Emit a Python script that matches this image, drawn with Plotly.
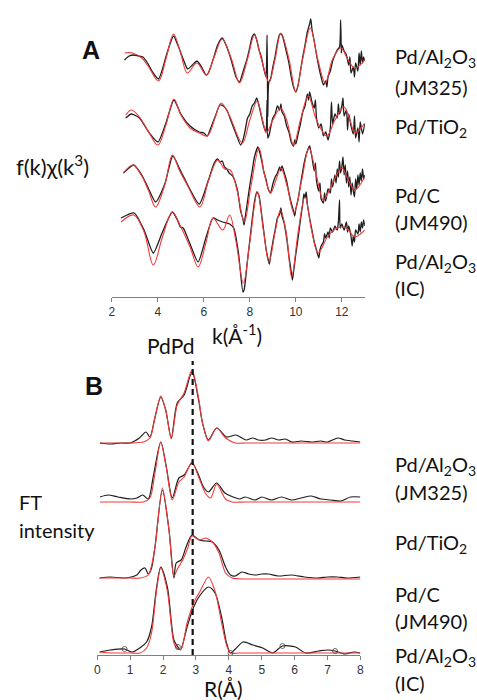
import plotly.graph_objects as go

# ---------------- Panel A : k^3-weighted EXAFS, data (black) and fit (red) ----------------
k_fit_jm325 = [2.55, 2.9, 3.3, 3.6, 4.03, 4.35, 4.68, 5.0, 5.28, 5.7, 6.1, 6.45, 6.8, 7.2, 7.55, 7.9, 8.2, 8.5,
               8.83, 9.1, 9.35, 9.7, 10.0, 10.3, 10.63, 10.95, 11.28, 11.6, 11.96, 12.25, 12.56, 13.0]
chi_fit_jm325 = [6, 6, 1, -8, -22, 0, 25, 5, -14, -4, -16, 2, 20, 0, -24, 0, 24, 0,
                 -23, 0, 26, 0, -33, 0, 31, 0, -24, 0, 11, 0, -9, -1]
k_dat_jm325 = [2.55, 2.75, 2.95, 3.15, 3.35, 3.55, 3.8, 4.03, 4.2, 4.4, 4.68, 4.9, 5.1, 5.3, 5.5, 5.7, 5.9, 6.1,
               6.2, 6.45, 6.6, 6.8, 7.0, 7.2, 7.4, 7.55, 7.7, 7.9,
               8.0, 8.1, 8.2, 8.3, 8.4, 8.5, 8.6, 8.7, 8.75, 8.78, 8.82, 8.9, 9.0, 9.1, 9.2, 9.3, 9.4, 9.5, 9.6, 9.7,
               9.8, 9.9, 10.0, 10.1, 10.2, 10.3, 10.4, 10.5, 10.6, 10.65, 10.7, 10.8, 10.9, 11.0, 11.1, 11.2, 11.3,
               11.35, 11.4, 11.5, 11.6, 11.7, 11.8, 11.9, 11.95, 11.98, 12.0, 12.1, 12.2, 12.3, 12.35, 12.4, 12.5,
               12.55, 12.6, 12.7, 12.75, 12.8, 12.85, 12.9, 12.95, 13.0]
chi_dat_jm325 = [-1, 3, 4, 3, 2, -4, -14, -20, -10, 6, 23, 12, 0, -10, -6, -2, -8, -16,
                 -14, 3, 14, 21, 12, -2, -18, -23, -13, 2,
                 12, 22, 25, 19, 9, 2, -9, -18, 24, -58, -24, -20, -8, 3, 16, 25, 24, 16, 6, -4,
                 -18, -28, -33, -26, -12, 2, 14, 27, 35, 40, 30, 18, 4, -8, -18, -26, -22,
                 -28, -18, -12, -2, 4, 9, 12, 39, 6, 14, 8, 4, -6, 2, -14, -8,
                 -18, -4, -12, 6, -6, 8, -4, 2, -2]

k_fit_tio2 = [2.6, 2.85, 3.2, 3.6, 4.0, 4.35, 4.7, 5.0, 5.4, 5.8, 6.15, 6.5, 6.75, 7.1, 7.67, 8.0, 8.32, 8.55,
              8.72, 9.0, 9.34, 9.6, 9.9, 10.2, 10.54, 10.9, 11.35, 11.7, 12.1, 12.35, 12.58, 13.0]
chi_fit_tio2 = [5, 10, 3, -12, -25, -5, 21, 5, -8, -13, -16, 3, 17, 5, -23, 0, 19, 0,
                -13, 0, 12, 0, -25, 0, 24, 0, -16, 0, 13, 0, -13, -3]
k_dat_tio2 = [2.6, 2.85, 3.2, 3.6, 4.0, 4.35, 4.7, 5.0, 5.4, 5.8, 6.0, 6.15, 6.3, 6.5, 6.7, 6.85, 7.0, 7.2, 7.4,
              7.6, 7.7, 7.8, 7.9, 8.0, 8.1, 8.2, 8.3, 8.4, 8.5, 8.6, 8.7, 8.75, 8.78, 8.85, 8.9, 9.0, 9.1, 9.2,
              9.3, 9.35, 9.4, 9.5, 9.6, 9.7, 9.8, 9.9, 9.95, 10.0, 10.1, 10.2, 10.3, 10.4, 10.5, 10.55, 10.6,
              10.7, 10.8, 10.85, 10.9, 11.0, 11.1, 11.2, 11.3, 11.4, 11.5, 11.55, 11.6, 11.7, 11.8, 11.85, 11.9,
              12.0, 12.05, 12.1, 12.2, 12.25, 12.3, 12.4, 12.5, 12.55, 12.6, 12.7, 12.75, 12.8, 12.9, 13.0]
chi_dat_tio2 = [2, 6, 2, -12, -22, -3, 20, 6, -6, -12, -13, -16, -8, 4, 15, 14, 10, -2, -14,
                -25, -20, -10, 2, 6, 14, 17, 22, 14, 4, -6, -12, 20, -18, -14, -8, 2, 6, 14,
                10, 16, 8, 4, -6, -12, -22, -26, -20, -24, -14, -4, 8, 14, 26, 20, 28,
                18, 12, 20, 2, -8, -4, -16, -12, -20, -8, 18, -4, 6, 2, 16, 6,
                14, 22, 4, 10, -10, 6, -6, -14, 4, -18, -8, -22, -2, -14, -4]

k_fit_jm490 = [2.5, 2.92, 3.3, 3.6, 3.9, 4.3, 4.63, 4.95, 5.3, 5.83, 6.2, 6.6, 6.9, 7.15, 7.45, 7.76, 8.05, 8.4,
               8.65, 8.9, 9.15, 9.35, 9.62, 9.92, 10.25, 10.57, 10.9, 11.2, 11.6, 12.0, 12.3, 12.56, 13.0]
chi_fit_jm490 = [8, 16, 5, -10, -26, -4, 26, 10, -5, -26, 0, 21, 12, 11, -10, -41, -5, 33,
                 5, -12, 2, 13, -5, -32, 0, 33, 5, -19, -2, 13, 0, -9, 4]
k_dat_jm490 = [2.5, 2.95, 3.3, 3.6, 3.9, 4.3, 4.65, 4.95, 5.3, 5.8, 6.2, 6.45, 6.6, 6.7, 6.8, 6.9, 7.0, 7.1,
               7.25, 7.45, 7.6, 7.7, 7.75, 7.8, 7.9, 8.0, 8.1, 8.2, 8.35, 8.4, 8.5, 8.6, 8.7, 8.8, 8.9, 8.95,
               9.0, 9.1, 9.2, 9.3, 9.35, 9.4, 9.5, 9.6, 9.7, 9.8, 9.9, 9.95, 10.0, 10.1, 10.2, 10.3, 10.4,
               10.5, 10.6, 10.65, 10.7, 10.8, 10.85, 10.9, 11.0, 11.05, 11.1, 11.2, 11.25, 11.3, 11.4, 11.5,
               11.55, 11.6, 11.7, 11.75, 11.8, 11.85, 11.9, 11.95, 12.0, 12.05, 12.1, 12.15, 12.2, 12.25,
               12.3, 12.35, 12.4, 12.45, 12.5, 12.55, 12.6, 12.65, 12.7, 12.75, 12.8, 12.85, 12.9, 12.95, 13.0]
chi_dat_jm490 = [8, 16, 6, -8, -21, -3, 25, 12, -4, -23, 1, 18, 22, 19, 20, 14, 12, 8,
                 5, -8, -30, -38, -44, -36, -20, -4, 10, 24, 34, 31, 22, 10, 2, -8, -12, -8,
                 -3, 4, 8, 14, 10, 15, 8, 0, -12, -22, -30, -35, -28, -18, -4, 10, 22,
                 30, 35, 30, 24, 10, 18, 0, -10, -2, -18, -22, -12, -20, -8, -12,
                 2, -6, 6, -2, 12, 4, 20, 8, 14, 24, 6, 16, -2, 10,
                 -6, 4, -14, -2, -10, -16, 2, -8, 6, -4, 8, 0, 12, 2, 6]

k_fit_ic = [2.4, 2.95, 3.4, 3.8, 4.2, 4.63, 5.0, 5.4, 5.75, 6.1, 6.4, 6.82, 7.12, 7.4, 7.72, 8.0, 8.33, 8.6,
            8.83, 9.1, 9.33, 9.58, 9.82, 10.1, 10.4, 10.7, 10.97, 11.4, 11.8, 12.2, 12.56, 13.0]
chi_fit_ic = [10, 17, 0, -33, -5, 20, 5, -15, -35, -10, 14, 2, 17, -10, -51, -10, 40, 0,
              -30, 0, 22, 0, -45, 0, 35, 0, -21, -4, 4, 4, -5, 2]
k_dat_ic = [2.4, 2.97, 3.4, 3.8, 4.2, 4.63, 4.85, 4.98, 5.1, 5.4, 5.75, 6.1, 6.4, 6.6, 6.82, 7.12, 7.3, 7.5,
            7.7, 7.75, 7.9, 8.0, 8.1, 8.2, 8.3, 8.4, 8.5, 8.6, 8.7, 8.8, 8.85, 8.9, 9.0, 9.1, 9.2, 9.3, 9.35,
            9.4, 9.5, 9.6, 9.7, 9.8, 9.85, 9.9, 10.0, 10.1, 10.2, 10.3, 10.35, 10.4, 10.45, 10.5, 10.6, 10.7,
            10.8, 10.9, 11.0, 11.05, 11.1, 11.2, 11.25, 11.3, 11.4, 11.45, 11.5, 11.6, 11.7, 11.8, 11.85,
            11.9, 11.93, 12.0, 12.1, 12.2, 12.25, 12.3, 12.4, 12.45, 12.5, 12.55, 12.6, 12.7, 12.75, 12.8,
            12.85, 12.9, 12.95, 13.0]
chi_dat_ic = [14, 19, 2, -21, 0, 20, 12, 5, 4, -12, -30, -5, 14, 12, 10, 8, 4, -20,
              -60, -58, -28, -8, 12, 30, 40, 36, 20, 2, -16, -28, -32, -24, -10, 2, 14, 18, 24,
              16, 8, -6, -24, -40, -48, -40, -22, -6, 12, 28, 38, 34, 40, 28, 14, 2,
              -10, -18, -26, -18, -14, -10, -2, -6, 0, -6, 4, 0, 6, 2, 10,
              32, 4, 8, 2, 10, 0, 6, -4, -14, -4, -10, 2, -2, 8, 0,
              10, 4, 12, 6]

# ---------------- Panel B : Fourier transform magnitude ----------------
r_dat_jm325 = [0.08, 0.4, 0.72, 1.0, 1.28, 1.48, 1.6, 1.75, 1.93, 2.08, 2.25, 2.43, 2.64, 2.88, 3.08, 3.2, 3.38,
               3.63, 3.93, 4.22, 4.52, 4.72, 4.9, 5.12, 5.3, 5.52, 5.72, 5.92, 6.2, 6.52, 6.8, 7.0, 7.32, 7.52,
               7.75, 8.0]
ft_dat_jm325 = [0, -1, 0, 0, 5, 11, 6, 25, 46, 33, 5, 40, 48, 71, 43, 20, 3,
                15, 6, 8, 3, 5, 3, 3, 5, 3, 4, 1, 2, 1, 2, 1, 5, 3,
                2, 1]
r_fit_jm325 = [0.08, 0.5, 1.0, 1.4, 1.6, 1.75, 1.93, 2.08, 2.25, 2.43, 2.64, 2.88, 3.08, 3.2, 3.38, 3.63, 3.9,
               4.2, 4.5, 5.0, 6.0, 7.0, 8.0]
ft_fit_jm325 = [0, 0, 0, 1, 5, 25, 47, 33, 4, 38, 50, 73, 45, 20, 2, 15, 5,
                0, 0, 0, 0, 0, 0]

r_dat_tio2 = [0.08, 0.33, 0.63, 1.03, 1.2, 1.38, 1.55, 1.7, 1.93, 2.1, 2.28, 2.48, 2.64, 2.88, 3.08, 3.23, 3.38,
              3.63, 3.88, 4.13, 4.33, 4.5, 4.8, 5.0, 5.3, 5.6, 5.9, 6.2, 6.5, 6.8, 7.1, 7.4, 7.7, 8.0]
ft_dat_tio2 = [5, 7, 5, 3, 4, 7, 3, 25, 60, 35, 4, 24, 27, 39, 27, 15, 10,
               19, 9, 5, 3, 5, 2, 5, 2, 5, 2, 4, 6, 3, 2, 1, 5, 5]
r_fit_tio2 = [0.08, 0.5, 1.0, 1.4, 1.6, 1.75, 1.93, 2.1, 2.28, 2.48, 2.64, 2.88, 3.08, 3.3, 3.45, 3.63, 3.9,
              4.1, 4.5, 5.0, 6.0, 7.0, 8.0]
ft_fit_tio2 = [0, 0, 0, 0, 4, 28, 60, 34, 2, 20, 25, 40, 25, 8, 4, 18, 3,
               0, 0, 0, 0, 0, 0]

r_dat_jm490 = [0.07, 0.4, 0.8, 1.03, 1.2, 1.33, 1.45, 1.55, 1.65, 1.75, 1.98, 2.18, 2.33, 2.4, 2.55, 2.7, 2.88,
               3.1, 3.3, 3.5, 3.7, 3.9, 4.05, 4.2, 4.4, 4.6, 4.8, 5.0, 5.2, 5.5, 5.9, 6.3, 6.7, 7.0, 7.3, 7.6, 8.0]
ft_dat_jm490 = [0, 1, 0, 1, 3, 8, 10, 4, 10, 30, 88, 48, 0, 15, 18, 31, 43,
                38, 37, 36, 28, 11, 3, 2, 6, 4, 3, 4, 4, 2, 3, 1, 0, 1, 1, 0, 1]
r_fit_jm490 = [0.07, 0.5, 1.0, 1.3, 1.55, 1.75, 1.98, 2.18, 2.33, 2.45, 2.6, 2.75, 2.88, 3.1, 3.3, 3.5, 3.7,
               3.9, 4.1, 4.5, 5.0, 6.0, 7.0, 8.0]
ft_fit_jm490 = [0, 0, 0, 0, 3, 30, 90, 48, 2, 10, 18, 30, 42, 38, 40, 36, 25,
                5, 0, -1, -1, -1, -1, -1]

r_dat_ic = [0.07, 0.4, 0.83, 1.05, 1.33, 1.5, 1.65, 1.8, 1.93, 2.13, 2.33, 2.45, 2.53, 2.73, 2.93, 3.13, 3.38,
            3.58, 3.78, 3.93, 4.05, 4.2, 4.43, 4.73, 5.03, 5.33, 5.63, 6.03, 6.33, 6.73, 7.0, 7.23, 7.53, 7.8, 8.0]
ft_dat_ic = [1, 3, 4, 1, 6, 11, 26, 65, 86, 66, 13, 6, 3, 26, 46, 58, 66,
             60, 36, 10, 0, 4, 11, 8, 5, 0, 7, 6, 0, 2, 3, 2, -1, 1, 0]
r_fit_ic = [0.07, 0.5, 1.0, 1.3, 1.5, 1.65, 1.8, 1.93, 2.13, 2.33, 2.45, 2.55, 2.73, 2.93, 3.13, 3.38, 3.58,
            3.78, 3.93, 4.05, 4.3, 5.0, 6.0, 7.0, 8.0]
ft_fit_ic = [1, 0, 0, 0, 5, 20, 62, 85, 62, 10, 4, 4, 30, 50, 62, 76, 62,
             30, 8, 0, 0, 0, 0, 0, 0]
r_markers_ic = [0.83, 2.45, 4.05, 5.63, 7.23]

pdpd_r = 2.9
k_ticks = [2, 4, 6, 8, 10, 12]
r_ticks = [0, 1, 2, 3, 4, 5, 6, 7, 8]

sample_lines = [["Pd/Al<sub>2</sub>O<sub>3</sub>", "(JM325)"], ["Pd/TiO<sub>2</sub>"],
                ["Pd/C", "(JM490)"], ["Pd/Al<sub>2</sub>O<sub>3</sub>", "(IC)"]]

# ---------------- layout constants (pixels in a 477 x 700 canvas) ----------------
W, H = 477, 700
A_OFF = [238, 177, 116, 65]          # vertical stacking of panel A curves
B_OFF = [212, 153, 77, 2]            # vertical stacking of panel B curves
A_LABEL_Y = [[58, 87], [128], [195, 222], [262, 288]]
B_LABEL_Y = [[465, 492], [543], [594, 621], [656, 683]]

BLACK = "#1e1e1e"
RED = "#f23a3a"
FONT = "Lato"


def px(x):
    return x / W


def py(y):
    return 1 - y / H


a_sets = [(k_dat_jm325, chi_dat_jm325, k_fit_jm325, chi_fit_jm325),
          (k_dat_tio2, chi_dat_tio2, k_fit_tio2, chi_fit_tio2),
          (k_dat_jm490, chi_dat_jm490, k_fit_jm490, chi_fit_jm490),
          (k_dat_ic, chi_dat_ic, k_fit_ic, chi_fit_ic)]
b_sets = [(r_dat_jm325, ft_dat_jm325, r_fit_jm325, ft_fit_jm325),
          (r_dat_tio2, ft_dat_tio2, r_fit_tio2, ft_fit_tio2),
          (r_dat_jm490, ft_dat_jm490, r_fit_jm490, ft_fit_jm490),
          (r_dat_ic, ft_dat_ic, r_fit_ic, ft_fit_ic)]

for s in a_sets + b_sets:
    assert len(s[0]) == len(s[1]), (len(s[0]), len(s[1]))
    assert len(s[2]) == len(s[3]), (len(s[2]), len(s[3]))

fig = go.Figure()

for (kd, cd, kf, cf), off in zip(a_sets, A_OFF):
    fig.add_trace(go.Scatter(x=kd, y=[v + off for v in cd], mode="lines", xaxis="x", yaxis="y",
                             line=dict(color=BLACK, width=1.3, shape="spline", smoothing=0.6),
                             hoverinfo="skip", showlegend=False))
    fig.add_trace(go.Scatter(x=kf, y=[v + off for v in cf], mode="lines", xaxis="x", yaxis="y",
                             line=dict(color=RED, width=1.1, shape="spline", smoothing=1.0),
                             hoverinfo="skip", showlegend=False))

for (rd, fd, rf, ff), off in zip(b_sets, B_OFF):
    fig.add_trace(go.Scatter(x=rd, y=[v + off for v in fd], mode="lines", xaxis="x2", yaxis="y2",
                             line=dict(color=BLACK, width=1.2, shape="spline", smoothing=0.8),
                             hoverinfo="skip", showlegend=False))
    fig.add_trace(go.Scatter(x=rf, y=[v + off for v in ff], mode="lines", xaxis="x2", yaxis="y2",
                             line=dict(color=RED, width=1.1, shape="spline", smoothing=0.8),
                             hoverinfo="skip", showlegend=False))

# small open circles on the IC data curve
mk_x = [r for r in r_dat_ic if r in r_markers_ic]
mk_y = [f + B_OFF[3] for r, f in zip(r_dat_ic, ft_dat_ic) if r in r_markers_ic]
fig.add_trace(go.Scatter(x=mk_x, y=mk_y, mode="markers", xaxis="x2", yaxis="y2",
                         marker=dict(symbol="circle-open", size=5, color="#444", line=dict(width=0.8)),
                         hoverinfo="skip", showlegend=False))

axis_common = dict(showgrid=False, zeroline=False, showline=True, linecolor="#808080", linewidth=1,
                   ticks="outside", ticklen=4, tickcolor="#808080", tickwidth=1,
                   tickfont=dict(family="Liberation Sans", size=12, color="#333"))

fig.update_layout(
    width=W, height=H, margin=dict(l=0, r=0, t=0, b=0),
    paper_bgcolor="white", plot_bgcolor="white",
    xaxis=dict(domain=[px(110.5), px(367.2)], range=[2, 13], tickvals=k_ticks, anchor="y", **axis_common),
    yaxis=dict(domain=[py(297), py(10)], range=[0, 287], visible=False),
    xaxis2=dict(domain=[px(95.7), px(362.7)], range=[0, 8], tickvals=r_ticks, anchor="y2", **axis_common),
    yaxis2=dict(domain=[py(655), py(361)], range=[0, 294], visible=False),
)

# PdPd dashed marker line
fig.add_shape(type="line", xref="x2", yref="y2 domain", x0=pdpd_r, x1=pdpd_r, y0=0, y1=1,
              line=dict(color="#111", width=2.2, dash="6px,4px"))

ann = []


def text(x, y, s, size=20, xanchor="center", bold=False, family=FONT, color="#111"):
    ann.append(dict(x=px(x), y=py(y), xref="paper", yref="paper", text=("<b>%s</b>" % s) if bold else s,
                    showarrow=False, xanchor=xanchor, yanchor="middle",
                    font=dict(family=family, size=size, color=color)))


text(89, 50, "A", size=25, bold=True, family="Liberation Sans")
text(92, 386, "B", size=25, bold=True, family="Liberation Sans")
text(50, 165, "f(k)χ(k<sup>3</sup>)", size=22)
text(237, 334, "k(Å<sup>-1</sup>)", size=21)
text(170, 346, "PdPd", size=21)
text(224, 688, "R(Å)", size=21)
text(14, 502, "FT", size=20, xanchor="left")
text(14, 530, "intensity", size=20, xanchor="left")

for lines, ys in zip(sample_lines, A_LABEL_Y):
    for s, y in zip(lines, ys):
        text(396, y, s, size=20, xanchor="left")
for lines, ys in zip(sample_lines, B_LABEL_Y):
    for s, y in zip(lines, ys):
        text(396, y, s, size=20, xanchor="left")

fig.update_layout(annotations=ann)
fig.write_html("out.html")
